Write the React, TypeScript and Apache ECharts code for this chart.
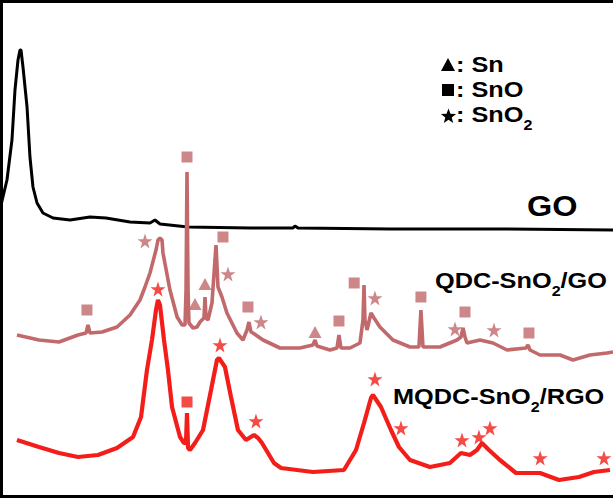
import React, { useEffect, useRef } from "react";
import * as echarts from "echarts";

// x: 2θ (degrees), y: intensity (a.u., stacked offsets)
const goCurve: [number, number][] = [
  [8.37, 293], [9.06, 318], [9.64, 358], [9.99, 408], [10.34, 438], [10.57, 448], [10.69, 448],
  [10.92, 431], [11.39, 391], [11.73, 341], [12.08, 311], [12.55, 295], [13.24, 285], [14.41, 280],
  [16.38, 278], [18.7, 281], [20.56, 280], [23.35, 276], [25.67, 275], [26.25, 278], [26.83, 274],
  [30.09, 271], [37.29, 270], [42.28, 270], [42.51, 272], [42.86, 270], [53.66, 269], [66.32, 269],
  [79.45, 268],
];

const qdcCurve: [number, number][] = [
  [10.22, 163], [12.78, 158], [15.1, 156], [17.31, 163], [18.24, 165], [18.47, 173], [18.7, 165],
  [20.1, 166], [21.84, 171], [23.35, 183], [24.51, 198], [25.09, 211], [25.67, 225], [26.37, 248],
  [26.6, 258], [26.83, 260], [27.07, 258], [27.18, 245], [27.99, 208], [28.82, 181], [29.4, 173],
  [29.74, 173], [29.86, 208], [29.97, 326], [30.09, 208], [30.2, 175], [30.67, 170], [31.13, 171],
  [31.48, 176], [31.94, 180], [32.06, 201], [32.18, 180], [32.41, 178], [32.87, 195], [33.22, 238],
  [33.34, 253], [33.45, 233], [33.57, 211], [34.03, 201], [34.61, 185], [35.77, 165], [36.47, 158],
  [36.94, 168], [37.17, 176], [37.4, 166], [37.63, 165], [38.8, 158], [40.77, 150], [43.09, 150],
  [44.6, 153], [44.84, 158], [45.07, 152], [46.58, 148], [47.39, 150], [47.62, 163], [47.85, 150],
  [48.9, 150], [50.06, 155], [50.41, 178], [50.53, 213], [50.64, 178], [50.88, 168], [51.34, 185],
  [51.69, 180], [52.38, 171], [53.89, 158], [55.87, 151], [56.91, 151], [57.14, 188], [57.38, 151],
  [59.35, 151], [61.33, 158], [61.79, 161], [62.03, 170], [62.26, 161], [62.49, 155], [64.0, 158],
  [65.51, 155], [67.14, 148], [69.34, 150], [69.57, 153], [69.81, 148], [70.97, 143], [73.29, 143],
  [74.8, 138], [76.77, 143], [78.75, 145], [79.45, 146],
];

const mqdcCurve: [number, number][] = [
  [10.22, 58], [12.78, 51], [15.1, 45], [17.31, 41], [19.63, 43], [21.84, 50], [23.7, 61],
  [24.63, 81], [25.32, 128], [25.9, 158], [26.37, 188], [26.6, 198], [26.83, 193], [27.3, 158],
  [27.76, 128], [28.23, 91], [29.16, 61], [29.62, 55], [29.85, 55], [29.97, 85], [30.09, 50],
  [30.32, 48], [30.9, 55], [31.83, 68], [32.76, 108], [33.45, 138], [33.68, 140], [34.38, 131],
  [35.08, 101], [35.89, 68], [36.82, 58], [37.75, 63], [38.22, 60], [38.68, 55], [40.07, 35],
  [40.89, 30], [44.6, 26], [48.2, 28], [49.6, 48], [50.53, 75], [51.34, 100], [51.57, 103],
  [52.5, 91], [53.66, 68], [54.59, 51], [55.87, 38], [58.19, 31], [60.51, 35], [61.79, 45],
  [62.84, 43], [63.65, 48], [64.23, 55], [65.04, 48], [66.32, 38], [68.18, 25], [70.97, 25],
  [73.18, 18], [75.5, 21], [77.24, 26], [79.1, 28],
];

const qdcSnO: [number, number][] = [
  [18.35, 188], [29.97, 341], [34.15, 261], [37.05, 191], [47.62, 177], [49.39, 215], [57.14, 201],
  [62.26, 186], [69.69, 165],
];
const qdcSnO2: [number, number][] = [
  [25.09, 257], [34.73, 224], [38.56, 176], [51.8, 200], [61.1, 169], [65.63, 168],
];
const qdcSn: [number, number][] = [[30.9, 194], [32.06, 214], [44.84, 166]];

const mqdcSnO2: [number, number][] = [
  [26.6, 209], [33.8, 153], [37.98, 77], [51.8, 119], [54.82, 70], [61.91, 58], [63.88, 61],
  [65.16, 70], [70.99, 40], [78.4, 40],
];
const mqdcSnO: [number, number][] = [[29.97, 96]];

const PINK = "#c1696b";
const RED = "#f31e19";
const FONT = "'Liberation Sans', Arial, Helvetica, sans-serif";
const STAR =
  "path://M50,0 L61.8,35.1 L98.1,35.1 L68.8,56.8 L79.4,91.9 L50,70.2 L20.6,91.9 L31.2,56.8 L1.9,35.1 L38.2,35.1 Z";

function starPoints(cx: number, cy: number, r: number): number[][] {
  const pts: number[][] = [];
  for (let i = 0; i < 10; i++) {
    const rr = i % 2 === 0 ? r : r * 0.42;
    const a = -Math.PI / 2 + (i * Math.PI) / 5;
    pts.push([cx + rr * Math.cos(a), cy + rr * Math.sin(a)]);
  }
  return pts;
}

function subLabel(main: string, after: string, x: number, y: number, size: number, sx: number) {
  return {
    type: "text",
    x,
    y,
    scaleX: sx,
    z: 20,
    style: {
      text: `{a|${main}}{s|2}{a|${after}}`,
      textAlign: "left",
      textVerticalAlign: "top",
      rich: {
        a: { fontSize: size, fontWeight: "bold", fontFamily: FONT, fill: "#000", lineHeight: 22, verticalAlign: "top" },
        s: { fontSize: Math.round(size * 0.64), fontWeight: "bold", fontFamily: FONT, fill: "#000", lineHeight: 42, verticalAlign: "middle" },
      },
    },
  };
}

export default function App() {
  const ref = useRef<HTMLDivElement>(null);
  useEffect(() => {
    const chart = echarts.init(ref.current!, null, { renderer: "svg" });
    chart.setOption({
      animation: false,
      backgroundColor: "#fff",
      grid: { left: 0, right: 0, top: 0, bottom: 0 },
      xAxis: { type: "value", min: 8.25, max: 79.45, show: false },
      yAxis: { type: "value", min: 0, max: 498, show: false },
      series: [
        { type: "line", data: goCurve, showSymbol: false, lineStyle: { color: "#000", width: 3 }, z: 3 },
        { type: "line", data: qdcCurve, showSymbol: false, lineStyle: { color: PINK, width: 3.6 }, z: 3 },
        { type: "line", data: mqdcCurve, showSymbol: false, lineStyle: { color: RED, width: 4.2 }, z: 3 },
        { type: "scatter", data: qdcSnO, symbol: "rect", symbolSize: 11, itemStyle: { color: PINK }, z: 5 },
        { type: "scatter", data: qdcSnO2, symbol: STAR, symbolSize: 15, itemStyle: { color: PINK }, z: 5 },
        { type: "scatter", data: qdcSn, symbol: "triangle", symbolSize: [13, 12], itemStyle: { color: PINK }, z: 5 },
        { type: "scatter", data: mqdcSnO2, symbol: STAR, symbolSize: 15, itemStyle: { color: RED }, z: 5 },
        { type: "scatter", data: mqdcSnO, symbol: "rect", symbolSize: 11, itemStyle: { color: RED }, z: 5 },
      ],
      graphic: [
        { type: "line", shape: { x1: 1.5, y1: 0, x2: 1.5, y2: 498 }, style: { stroke: "#000", lineWidth: 3 }, z: 30 },
        { type: "line", shape: { x1: 0, y1: 1.5, x2: 613, y2: 1.5 }, style: { stroke: "#000", lineWidth: 3 }, z: 30 },
        { type: "line", shape: { x1: 0, y1: 496.5, x2: 613, y2: 496.5 }, style: { stroke: "#000", lineWidth: 3 }, z: 30 },
        // legend
        { type: "polygon", shape: { points: [[441, 71], [455, 71], [448, 58]] }, style: { fill: "#000" }, z: 20 },
        { type: "rect", shape: { x: 442, y: 84, width: 12, height: 12 }, style: { fill: "#000" }, z: 20 },
        { type: "polygon", shape: { points: starPoints(448.5, 116.5, 8) }, style: { fill: "#000" }, z: 20 },
        { type: "text", x: 456, y: 65, scaleX: 1.15, z: 20, style: { text: ": Sn", font: `bold 22px ${FONT}`, fill: "#000", textAlign: "left", textVerticalAlign: "middle" } },
        { type: "text", x: 456, y: 90, scaleX: 1.15, z: 20, style: { text: ": SnO", font: `bold 22px ${FONT}`, fill: "#000", textAlign: "left", textVerticalAlign: "middle" } },
        subLabel(": SnO", "", 456, 104, 22, 1.15),
        // curve labels
        { type: "text", x: 527, y: 206, scaleX: 1.12, z: 20, style: { text: "GO", font: `bold 29px ${FONT}`, fill: "#000", textAlign: "left", textVerticalAlign: "middle" } },
        subLabel("QDC-SnO", "/GO", 435, 269.5, 22, 1.15),
        subLabel("MQDC-SnO", "/RGO", 393, 385.5, 22, 1.15),
      ],
    });
    return () => chart.dispose();
  }, []);
  return (
    <div
      ref={ref}
      style={{ position: "fixed", left: 0, top: 0, width: 613, height: 498, background: "#fff" }}
    />
  );
}
